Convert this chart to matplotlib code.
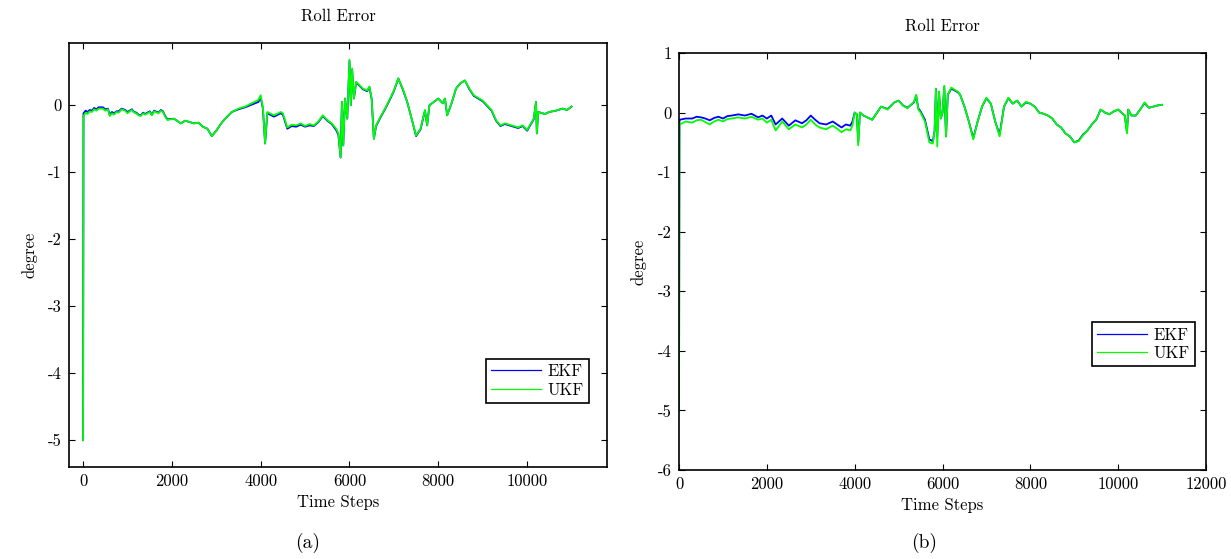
import numpy as np
import matplotlib
matplotlib.use('Agg')
import matplotlib.pyplot as plt

plt.rcParams['font.family'] = 'serif'
plt.rcParams['font.serif'] = ['cmr10', 'DejaVu Serif']
plt.rcParams['mathtext.fontset'] = 'cm'

# run (a): roll error per time step
steps_a = [0, 10, 20, 60, 100, 150, 200, 250, 300, 350, 450, 500, 560, 600, 650,
           700, 750, 800, 870, 950, 1000, 1050, 1100, 1150, 1200, 1250, 1300, 1350,
           1400, 1500, 1550, 1600, 1700, 1750, 1800, 1850, 1900, 2050, 2200, 2300,
           2400, 2500, 2600, 2700, 2800, 2900, 3000, 3100, 3200, 3350, 3500, 3650,
           3800, 3950, 4000, 4050, 4100, 4150, 4300, 4450, 4500, 4600, 4700, 4800,
           4900, 5000, 5100, 5200, 5300, 5400, 5500, 5600, 5700, 5750, 5800, 5830,
           5860, 5900, 5950, 6000, 6030, 6060, 6100, 6150, 6200, 6300, 6400, 6450,
           6500, 6550, 6600, 6700, 6800, 6900, 7000, 7100, 7200, 7300, 7400, 7500,
           7600, 7700, 7750, 7800, 7900, 8000, 8100, 8150, 8200, 8300, 8400, 8500,
           8600, 8700, 8800, 9000, 9200, 9300, 9400, 9500, 9650, 9800, 9900, 10000,
           10150, 10200, 10220, 10250, 10400, 10500, 10650, 10800, 10900, 11000]
ukf_a = [-5.0, -0.16, -0.15, -0.11, -0.13, -0.09, -0.1, -0.06, -0.08, -0.05, -0.05,
         -0.08, -0.06, -0.16, -0.12, -0.14, -0.1, -0.11, -0.06, -0.08, -0.12, -0.09,
         -0.07, -0.11, -0.12, -0.15, -0.16, -0.12, -0.14, -0.1, -0.15, -0.09, -0.12,
         -0.08, -0.1, -0.17, -0.22, -0.2, -0.27, -0.23, -0.25, -0.27, -0.26, -0.32,
         -0.35, -0.46, -0.38, -0.28, -0.2, -0.1, -0.05, -0.02, 0.03, 0.08, 0.15,
         -0.03, -0.57, -0.1, -0.15, -0.1, -0.12, -0.33, -0.29, -0.3, -0.27, -0.31,
         -0.28, -0.3, -0.24, -0.15, -0.22, -0.27, -0.35, -0.42, -0.78, 0.05, -0.6,
         0.1, -0.2, 0.68, 0.0, 0.55, 0.1, 0.35, 0.32, 0.25, 0.22, 0.28, 0.1, -0.5,
         -0.3, -0.17, -0.05, 0.08, 0.22, 0.4, 0.25, 0.05, -0.2, -0.45, -0.35, -0.07,
         -0.3, 0.0, 0.05, 0.1, 0.03, 0.1, -0.15, 0.03, 0.25, 0.33, 0.37, 0.25, 0.15,
         0.07, -0.07, -0.22, -0.3, -0.27, -0.3, -0.33, -0.3, -0.37, -0.2, 0.05,
         -0.42, -0.1, -0.13, -0.1, -0.08, -0.05, -0.07, -0.02]
ekf_a = [-5.0, -0.12, -0.11, -0.08, -0.1, -0.07, -0.08, -0.04, -0.06, -0.03, -0.03,
         -0.06, -0.05, -0.14, -0.1, -0.12, -0.09, -0.09, -0.05, -0.07, -0.1, -0.08,
         -0.06, -0.1, -0.11, -0.14, -0.15, -0.11, -0.13, -0.09, -0.14, -0.08, -0.11,
         -0.07, -0.09, -0.16, -0.21, -0.2, -0.27, -0.23, -0.25, -0.27, -0.26, -0.32,
         -0.35, -0.46, -0.38, -0.28, -0.2, -0.1, -0.06, -0.03, 0.01, 0.05, 0.12,
         -0.05, -0.57, -0.12, -0.17, -0.12, -0.14, -0.35, -0.31, -0.32, -0.29, -0.32,
         -0.3, -0.31, -0.25, -0.16, -0.23, -0.28, -0.37, -0.44, -0.78, 0.05, -0.6,
         0.1, -0.2, 0.66, 0.0, 0.53, 0.1, 0.34, 0.31, 0.24, 0.21, 0.27, 0.09, -0.5,
         -0.31, -0.18, -0.06, 0.07, 0.21, 0.4, 0.24, 0.05, -0.2, -0.46, -0.36, -0.08,
         -0.3, 0.0, 0.05, 0.1, 0.03, 0.1, -0.15, 0.03, 0.25, 0.33, 0.37, 0.24, 0.14,
         0.06, -0.08, -0.23, -0.31, -0.28, -0.31, -0.34, -0.31, -0.38, -0.21, 0.05,
         -0.42, -0.1, -0.13, -0.1, -0.08, -0.05, -0.07, -0.02]

# run (b): roll error per time step
steps_b = [0, 10, 20, 150, 300, 400, 500, 600, 700, 800, 900, 1000, 1100, 1200,
           1350, 1500, 1650, 1800, 1900, 2000, 2100, 2200, 2350, 2500, 2650, 2800,
           2900, 3000, 3100, 3200, 3350, 3500, 3600, 3700, 3800, 3900, 3950, 4000,
           4050, 4080, 4120, 4200, 4400, 4600, 4750, 4900, 5000, 5100, 5200, 5350,
           5400, 5450, 5500, 5600, 5700, 5780, 5820, 5850, 5880, 5920, 5960, 6000,
           6040, 6080, 6120, 6200, 6280, 6350, 6400, 6500, 6600, 6700, 6800, 6900,
           7000, 7100, 7200, 7300, 7400, 7500, 7600, 7700, 7800, 7900, 8000, 8100,
           8200, 8300, 8400, 8500, 8600, 8700, 8800, 8900, 9000, 9100, 9200, 9300,
           9400, 9500, 9600, 9700, 9800, 9900, 10000, 10150, 10200, 10230, 10300,
           10400, 10500, 10600, 10700, 10800, 10900, 11000]
ukf_b = [-5.0, -0.22, -0.2, -0.15, -0.17, -0.13, -0.12, -0.16, -0.2, -0.15, -0.12,
         -0.15, -0.11, -0.1, -0.08, -0.1, -0.07, -0.12, -0.1, -0.17, -0.12, -0.3,
         -0.15, -0.28, -0.2, -0.25, -0.2, -0.12, -0.2, -0.25, -0.28, -0.22, -0.27,
         -0.33, -0.28, -0.3, -0.22, 0.0, -0.03, -0.55, 0.0, -0.05, -0.12, 0.1, 0.05,
         0.17, 0.2, 0.12, 0.07, 0.18, 0.3, 0.05, 0.0, -0.15, -0.5, -0.52, -0.3, 0.4,
         -0.57, 0.35, -0.1, 0.0, 0.45, -0.4, 0.3, 0.42, 0.38, 0.35, 0.3, 0.1, -0.15,
         -0.45, -0.15, 0.1, 0.25, 0.15, -0.15, -0.4, 0.1, 0.25, 0.15, 0.2, 0.1,
         0.18, 0.15, 0.1, 0.0, -0.02, -0.05, -0.1, -0.2, -0.25, -0.35, -0.4, -0.5,
         -0.48, -0.38, -0.3, -0.2, -0.12, 0.05, 0.0, -0.03, 0.02, 0.05, -0.05,
         -0.35, 0.05, -0.05, -0.05, 0.05, 0.17, 0.08, 0.1, 0.12, 0.13]
ekf_b = [-5.0, -0.13, -0.12, -0.1, -0.1, -0.07, -0.08, -0.1, -0.13, -0.09, -0.07,
         -0.1, -0.06, -0.05, -0.03, -0.05, -0.02, -0.08, -0.05, -0.1, -0.05, -0.2,
         -0.1, -0.22, -0.13, -0.18, -0.13, -0.05, -0.12, -0.18, -0.2, -0.15, -0.2,
         -0.25, -0.2, -0.22, -0.15, 0.0, -0.03, -0.5, 0.0, -0.05, -0.12, 0.1, 0.06,
         0.17, 0.2, 0.12, 0.08, 0.17, 0.28, 0.07, 0.02, -0.12, -0.45, -0.48, -0.3,
         0.4, -0.4, 0.35, -0.1, 0.0, 0.43, -0.4, 0.3, 0.4, 0.37, 0.34, 0.3, 0.1,
         -0.15, -0.43, -0.15, 0.1, 0.24, 0.15, -0.15, -0.37, 0.1, 0.24, 0.15, 0.2,
         0.1, 0.17, 0.15, 0.1, 0.0, -0.02, -0.05, -0.1, -0.2, -0.25, -0.35, -0.4,
         -0.5, -0.47, -0.37, -0.3, -0.2, -0.12, 0.05, 0.0, -0.03, 0.02, 0.05, -0.05,
         -0.33, 0.05, -0.05, -0.05, 0.05, 0.16, 0.08, 0.1, 0.12, 0.13]


def style_axes(ax, xticks, yticks):
    ax.set_xticks(xticks)
    ax.set_xticklabels([str(v) for v in xticks])
    ax.set_yticks(yticks)
    ax.set_yticklabels([str(v) for v in yticks])
    ax.tick_params(direction='in', top=True, right=True, length=4, width=0.8,
                   labelsize=12, pad=5)
    for sp in ax.spines.values():
        sp.set_linewidth(1.2)
    ax.set_title('Roll Error', fontsize=12, pad=16)
    ax.set_xlabel('Time Steps', fontsize=12, labelpad=4)
    ax.set_ylabel('degree', fontsize=12, labelpad=8)


def plot_panel(ax, t, ekf, ukf, legend_anchor):
    ax.plot(t, ekf, color='#0000ff', lw=1.3, label='EKF')
    ax.plot(t, ukf, color='#00ff00', lw=1.3, label='UKF')
    leg = ax.legend(loc='lower right', bbox_to_anchor=legend_anchor, fontsize=12,
                    fancybox=False, framealpha=1, edgecolor='black',
                    handlelength=3.0, borderpad=0.3, labelspacing=0.2,
                    handletextpad=0.4, borderaxespad=0)
    leg.get_frame().set_linewidth(1.2)
    for line in leg.get_lines():
        line.set_linewidth(0.9)


fig = plt.figure(figsize=(12.31, 5.59), dpi=100)
ax1 = fig.add_axes([0.0561, 0.1646, 0.4370, 0.7585])
ax2 = fig.add_axes([0.5516, 0.1592, 0.4281, 0.7460])

plot_panel(ax1, steps_a, ekf_a, ukf_a, (0.9665, 0.151))
ax1.set_xlim(-315, 11800)
ax1.set_ylim(-5.4, 0.93)
style_axes(ax1, [0, 2000, 4000, 6000, 8000, 10000], [0, -1, -2, -3, -4, -5])

plot_panel(ax2, steps_b, ekf_b, ukf_b, (0.979, 0.249))
ax2.set_xlim(0, 12000)
ax2.set_ylim(-6, 1)
style_axes(ax2, [0, 2000, 4000, 6000, 8000, 10000, 12000],
           [1, 0, -1, -2, -3, -4, -5, -6])

fig.text(308 / 1231, 1 - 543 / 559, '(a)', ha='center', va='center', fontsize=14)
fig.text(924 / 1231, 1 - 543 / 559, '(b)', ha='center', va='center', fontsize=14)

fig.savefig('out.png', dpi=100)
